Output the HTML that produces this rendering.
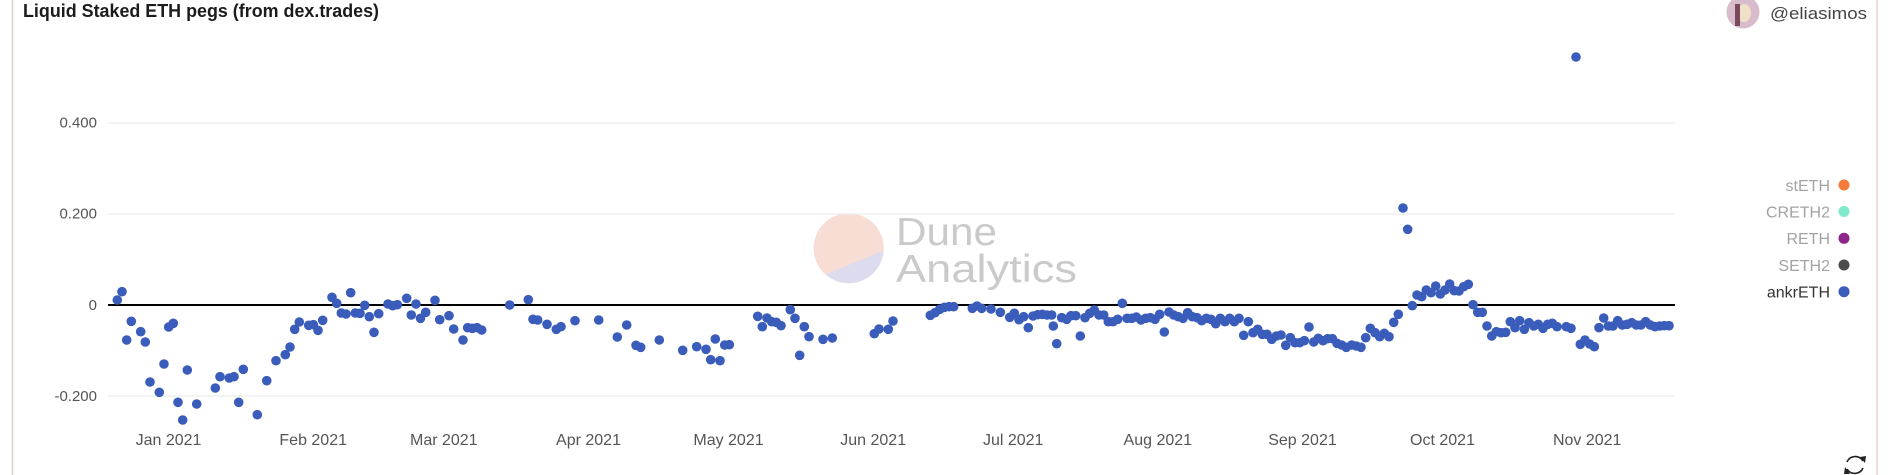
<!DOCTYPE html>
<html><head><meta charset="utf-8"><style>
html,body{margin:0;padding:0;background:#fff;}
svg{display:block;font-family:"Liberation Sans",sans-serif;}
</style></head><body>
<svg width="1891" height="475" viewBox="0 0 1891 475" xmlns="http://www.w3.org/2000/svg">
<rect width="1891" height="475" fill="#fff"/>
<line x1="12.5" y1="0" x2="12.5" y2="475" stroke="#ddd0c9" stroke-width="1.5"/>
<line x1="1877" y1="0" x2="1877" y2="475" stroke="#ecd2cc" stroke-width="1.5"/>
<text x="23" y="17" font-size="18" font-weight="bold" fill="#1c1c1c" textLength="356" lengthAdjust="spacingAndGlyphs">Liquid Staked ETH pegs (from dex.trades)</text>
<circle cx="1743" cy="12" r="16.5" fill="#d8bccb"/>
<ellipse cx="1744" cy="13" rx="7" ry="9" fill="#efe0c8"/>
<rect x="1735" y="4" width="5" height="22" fill="#7a4a5a"/>
<text x="1770" y="19" font-size="17" fill="#444" textLength="97" lengthAdjust="spacingAndGlyphs">@eliasimos</text>
<clipPath id="wc"><circle cx="848.7" cy="248.3" r="35"/></clipPath>
<g clip-path="url(#wc)">
<rect x="810" y="210" width="80" height="80" fill="#dcdcee"/>
<polygon points="800,200 900,200 900,244 800,285" fill="#f8ddd5"/>
</g>
<text x="896" y="245" font-size="39" fill="#cacaca" textLength="101" lengthAdjust="spacingAndGlyphs">Dune</text>
<text x="896" y="282" font-size="39" fill="#cacaca" textLength="181" lengthAdjust="spacingAndGlyphs">Analytics</text>
<g stroke="#efefef" stroke-width="1.5">
<line x1="108" y1="123" x2="1675" y2="123"/>
<line x1="108" y1="214" x2="1675" y2="214"/>
<line x1="108" y1="396" x2="1675" y2="396"/>
</g>
<line x1="108" y1="305" x2="1675" y2="305" stroke="#000" stroke-width="2"/>
<g font-size="15" fill="#555" text-anchor="end">
<text x="97" y="127.5">0.400</text>
<text x="97" y="218.5">0.200</text>
<text x="97" y="310">0</text>
<text x="97" y="401">-0.200</text>
</g>
<g font-size="16" fill="#555" text-anchor="middle">
<text x="168.5" y="445">Jan 2021</text>
<text x="313.2" y="445">Feb 2021</text>
<text x="443.8" y="445">Mar 2021</text>
<text x="588.5" y="445">Apr 2021</text>
<text x="728.5" y="445">May 2021</text>
<text x="873.2" y="445">Jun 2021</text>
<text x="1013.2" y="445">Jul 2021</text>
<text x="1157.8" y="445">Aug 2021</text>
<text x="1302.5" y="445">Sep 2021</text>
<text x="1442.5" y="445">Oct 2021</text>
<text x="1587.2" y="445">Nov 2021</text>
</g>
<g font-size="16" text-anchor="end">
<text x="1830" y="191" fill="#a3a3a3">stETH</text>
<text x="1830" y="217.5" fill="#a3a3a3">CRETH2</text>
<text x="1830" y="244" fill="#a3a3a3">RETH</text>
<text x="1830" y="271" fill="#a3a3a3">SETH2</text>
<text x="1830" y="297.5" fill="#333">ankrETH</text>
</g>
<circle cx="1844" cy="185" r="5.5" fill="#f47b3c"/>
<circle cx="1844" cy="211.5" r="5.5" fill="#7ee9cb"/>
<circle cx="1844" cy="238.3" r="5.5" fill="#8e2589"/>
<circle cx="1844" cy="265" r="5.5" fill="#4b4b4b"/>
<circle cx="1844" cy="291.7" r="5.5" fill="#3a5dbd"/>
<g fill="none" stroke="#222" stroke-width="1.6">
<path d="M1847 462 A9 9 0 0 1 1863 461"/>
<path d="M1863 468 A9 9 0 0 1 1847 469"/>
</g>
<polygon points="1860,457 1865,463 1866,456" fill="#222"/>
<polygon points="1850,474 1845,467 1844,474" fill="#222"/>
<g fill="#3a5cba">
<circle cx="117.3" cy="300" r="4.8"/><circle cx="122" cy="291.7" r="4.8"/><circle cx="126.7" cy="340" r="4.8"/><circle cx="131.3" cy="321.3" r="4.8"/><circle cx="140.7" cy="331.7" r="4.8"/><circle cx="145.3" cy="342" r="4.8"/><circle cx="150" cy="382" r="4.8"/><circle cx="159.3" cy="392.3" r="4.8"/><circle cx="164" cy="364" r="4.8"/><circle cx="168.7" cy="327" r="4.8"/><circle cx="173.3" cy="323.3" r="4.8"/><circle cx="178" cy="402.3" r="4.8"/><circle cx="182.7" cy="420" r="4.8"/><circle cx="187.3" cy="370" r="4.8"/><circle cx="196.7" cy="404" r="4.8"/><circle cx="215.3" cy="388" r="4.8"/><circle cx="220" cy="376.7" r="4.8"/><circle cx="229.3" cy="378" r="4.8"/><circle cx="234" cy="376.7" r="4.8"/><circle cx="238.7" cy="402.3" r="4.8"/><circle cx="243.3" cy="369.3" r="4.8"/><circle cx="257.3" cy="414.7" r="4.8"/><circle cx="266.7" cy="380.7" r="4.8"/><circle cx="276" cy="360.7" r="4.8"/><circle cx="285.3" cy="354.7" r="4.8"/><circle cx="290" cy="347" r="4.8"/><circle cx="294.7" cy="329.3" r="4.8"/><circle cx="299.3" cy="322" r="4.8"/><circle cx="308.7" cy="325.3" r="4.8"/><circle cx="313.3" cy="324.7" r="4.8"/><circle cx="318" cy="330.3" r="4.8"/><circle cx="322.7" cy="320.3" r="4.8"/><circle cx="332" cy="297.3" r="4.8"/><circle cx="336.7" cy="303.3" r="4.8"/><circle cx="341.3" cy="313" r="4.8"/><circle cx="346" cy="314" r="4.8"/><circle cx="350.7" cy="292.7" r="4.8"/><circle cx="355.3" cy="313" r="4.8"/><circle cx="360" cy="313.3" r="4.8"/><circle cx="364.7" cy="305.3" r="4.8"/><circle cx="369.3" cy="316.7" r="4.8"/><circle cx="374" cy="332.3" r="4.8"/><circle cx="378.7" cy="313.7" r="4.8"/><circle cx="388" cy="304" r="4.8"/><circle cx="392.7" cy="305.7" r="4.8"/><circle cx="397.3" cy="304.7" r="4.8"/><circle cx="406.7" cy="298.3" r="4.8"/><circle cx="411.3" cy="315" r="4.8"/><circle cx="416" cy="304" r="4.8"/><circle cx="420.5" cy="318.3" r="4.8"/>
<circle cx="425.7" cy="312.3" r="4.8"/><circle cx="435" cy="300.3" r="4.8"/><circle cx="439.7" cy="319.7" r="4.8"/><circle cx="449" cy="315.7" r="4.8"/><circle cx="453.7" cy="329" r="4.8"/><circle cx="463" cy="340" r="4.8"/><circle cx="467.7" cy="327.7" r="4.8"/><circle cx="472.3" cy="328.3" r="4.8"/><circle cx="477" cy="327.7" r="4.8"/><circle cx="481.7" cy="330" r="4.8"/><circle cx="509.7" cy="305" r="4.8"/><circle cx="528.3" cy="299.7" r="4.8"/><circle cx="533" cy="319.3" r="4.8"/><circle cx="537.7" cy="320" r="4.8"/><circle cx="547" cy="324.3" r="4.8"/><circle cx="556.3" cy="329.3" r="4.8"/><circle cx="561" cy="326.7" r="4.8"/><circle cx="575" cy="320.7" r="4.8"/><circle cx="598.7" cy="320" r="4.8"/><circle cx="617.3" cy="337" r="4.8"/><circle cx="626.7" cy="325" r="4.8"/><circle cx="636" cy="345.3" r="4.8"/><circle cx="640.7" cy="347.3" r="4.8"/><circle cx="659.3" cy="340" r="4.8"/><circle cx="682.7" cy="350.3" r="4.8"/><circle cx="696.7" cy="346.7" r="4.8"/><circle cx="706" cy="349.3" r="4.8"/><circle cx="710.7" cy="359.7" r="4.8"/><circle cx="715.3" cy="339" r="4.8"/><circle cx="720" cy="360.7" r="4.8"/><circle cx="724.7" cy="345" r="4.8"/><circle cx="729.3" cy="344.7" r="4.8"/>
<circle cx="757.7" cy="316.3" r="4.8"/><circle cx="762.3" cy="326.7" r="4.8"/><circle cx="767" cy="318" r="4.8"/><circle cx="771.7" cy="321.7" r="4.8"/><circle cx="776.3" cy="322.3" r="4.8"/><circle cx="781" cy="325.7" r="4.8"/><circle cx="790.3" cy="309.7" r="4.8"/><circle cx="795" cy="318.3" r="4.8"/><circle cx="799.7" cy="355.3" r="4.8"/><circle cx="804.3" cy="326.7" r="4.8"/><circle cx="809" cy="336.7" r="4.8"/><circle cx="823" cy="339.3" r="4.8"/><circle cx="832.3" cy="338" r="4.8"/><circle cx="874.3" cy="333.7" r="4.8"/><circle cx="879" cy="329" r="4.8"/><circle cx="888.3" cy="329.3" r="4.8"/><circle cx="893" cy="321" r="4.8"/><circle cx="930.3" cy="315.3" r="4.8"/><circle cx="935" cy="312.7" r="4.8"/><circle cx="939.7" cy="309.3" r="4.8"/><circle cx="944.3" cy="307.3" r="4.8"/><circle cx="949" cy="306.7" r="4.8"/><circle cx="953.7" cy="306.7" r="4.8"/><circle cx="972.3" cy="308.3" r="4.8"/><circle cx="977" cy="306" r="4.8"/><circle cx="981.7" cy="308.3" r="4.8"/><circle cx="991" cy="309" r="4.8"/><circle cx="1000.3" cy="312.3" r="4.8"/><circle cx="1009.7" cy="317.3" r="4.8"/><circle cx="1014.3" cy="313.3" r="4.8"/><circle cx="1019" cy="319.7" r="4.8"/><circle cx="1023.7" cy="316.7" r="4.8"/><circle cx="1028.3" cy="327.7" r="4.8"/><circle cx="1033" cy="316" r="4.8"/><circle cx="1037.7" cy="314.7" r="4.8"/><circle cx="1042.3" cy="314.3" r="4.8"/><circle cx="1047" cy="315" r="4.8"/>
<circle cx="1051.7" cy="315" r="4.8"/><circle cx="1053.3" cy="326" r="4.8"/><circle cx="1056.7" cy="343.7" r="4.8"/><circle cx="1061.7" cy="317.7" r="4.8"/><circle cx="1066.7" cy="319.3" r="4.8"/><circle cx="1071" cy="315.7" r="4.8"/><circle cx="1075.7" cy="315.7" r="4.8"/><circle cx="1080.3" cy="336" r="4.8"/><circle cx="1085" cy="317.7" r="4.8"/><circle cx="1089.7" cy="313.3" r="4.8"/><circle cx="1094.3" cy="310" r="4.8"/><circle cx="1099" cy="315" r="4.8"/><circle cx="1103.7" cy="315" r="4.8"/><circle cx="1108.3" cy="321.7" r="4.8"/><circle cx="1113" cy="321.7" r="4.8"/><circle cx="1117.7" cy="319.3" r="4.8"/><circle cx="1122.3" cy="303.3" r="4.8"/><circle cx="1127" cy="318.3" r="4.8"/><circle cx="1131.7" cy="318.3" r="4.8"/><circle cx="1136.3" cy="317" r="4.8"/><circle cx="1141" cy="320" r="4.8"/><circle cx="1145.7" cy="318.3" r="4.8"/><circle cx="1150.3" cy="317.7" r="4.8"/><circle cx="1155" cy="319.3" r="4.8"/><circle cx="1159.7" cy="314.3" r="4.8"/><circle cx="1164.3" cy="332" r="4.8"/><circle cx="1169" cy="312" r="4.8"/><circle cx="1173.7" cy="315" r="4.8"/><circle cx="1178.3" cy="316.7" r="4.8"/><circle cx="1183" cy="318.3" r="4.8"/><circle cx="1187.7" cy="312.7" r="4.8"/><circle cx="1192.3" cy="316.7" r="4.8"/><circle cx="1197" cy="317.7" r="4.8"/><circle cx="1201.7" cy="320.7" r="4.8"/><circle cx="1206.3" cy="318.3" r="4.8"/><circle cx="1211" cy="319.3" r="4.8"/><circle cx="1215.7" cy="323.7" r="4.8"/><circle cx="1220.3" cy="318.3" r="4.8"/><circle cx="1225" cy="321.7" r="4.8"/><circle cx="1229.7" cy="318.3" r="4.8"/><circle cx="1234.3" cy="321.7" r="4.8"/><circle cx="1239" cy="318.3" r="4.8"/><circle cx="1243.7" cy="335.3" r="4.8"/><circle cx="1248.3" cy="321.7" r="4.8"/><circle cx="1253" cy="332.7" r="4.8"/><circle cx="1257.7" cy="329.3" r="4.8"/><circle cx="1262.3" cy="334.3" r="4.8"/><circle cx="1267" cy="334.3" r="4.8"/><circle cx="1271.7" cy="339.3" r="4.8"/><circle cx="1276.3" cy="336" r="4.8"/><circle cx="1281" cy="335" r="4.8"/><circle cx="1285.7" cy="345.3" r="4.8"/><circle cx="1290.3" cy="337.7" r="4.8"/><circle cx="1295" cy="342.7" r="4.8"/><circle cx="1299.7" cy="342.7" r="4.8"/><circle cx="1304.3" cy="340.7" r="4.8"/><circle cx="1309" cy="327" r="4.8"/><circle cx="1313.7" cy="342" r="4.8"/><circle cx="1318.3" cy="338.3" r="4.8"/><circle cx="1323" cy="340.7" r="4.8"/><circle cx="1327.7" cy="338.7" r="4.8"/><circle cx="1332.3" cy="338.7" r="4.8"/><circle cx="1337" cy="343.3" r="4.8"/><circle cx="1341.7" cy="345" r="4.8"/><circle cx="1346.3" cy="347.3" r="4.8"/>
<circle cx="1351.7" cy="345" r="4.8"/><circle cx="1356.3" cy="346" r="4.8"/><circle cx="1361" cy="347.3" r="4.8"/><circle cx="1365.7" cy="337.7" r="4.8"/><circle cx="1370.3" cy="328.3" r="4.8"/><circle cx="1375" cy="332.7" r="4.8"/><circle cx="1379.7" cy="336.7" r="4.8"/><circle cx="1384.3" cy="333.3" r="4.8"/><circle cx="1389" cy="336.7" r="4.8"/><circle cx="1393.7" cy="322.3" r="4.8"/><circle cx="1398.3" cy="314.3" r="4.8"/><circle cx="1403" cy="208" r="4.8"/><circle cx="1407.7" cy="229.3" r="4.8"/><circle cx="1412.3" cy="305.7" r="4.8"/><circle cx="1417" cy="295" r="4.8"/><circle cx="1421.7" cy="296.7" r="4.8"/><circle cx="1426.3" cy="290" r="4.8"/><circle cx="1431" cy="292.7" r="4.8"/><circle cx="1435.7" cy="286" r="4.8"/><circle cx="1440.3" cy="294" r="4.8"/><circle cx="1445" cy="290" r="4.8"/><circle cx="1449.7" cy="284" r="4.8"/><circle cx="1454.3" cy="290.7" r="4.8"/><circle cx="1459" cy="291" r="4.8"/><circle cx="1463.7" cy="286.7" r="4.8"/><circle cx="1468.3" cy="284.3" r="4.8"/><circle cx="1473" cy="304.7" r="4.8"/><circle cx="1477.7" cy="312.3" r="4.8"/><circle cx="1482.3" cy="312.3" r="4.8"/><circle cx="1487" cy="326" r="4.8"/><circle cx="1491.7" cy="336" r="4.8"/><circle cx="1496.3" cy="331.7" r="4.8"/><circle cx="1501" cy="332.7" r="4.8"/><circle cx="1505.7" cy="332.3" r="4.8"/><circle cx="1510.3" cy="321.7" r="4.8"/><circle cx="1515" cy="327.7" r="4.8"/><circle cx="1519.7" cy="320.7" r="4.8"/><circle cx="1524.3" cy="329.3" r="4.8"/><circle cx="1529" cy="322.7" r="4.8"/><circle cx="1533.7" cy="326" r="4.8"/><circle cx="1538.3" cy="324.3" r="4.8"/><circle cx="1543" cy="328.3" r="4.8"/><circle cx="1547.7" cy="324.3" r="4.8"/><circle cx="1552.3" cy="323.3" r="4.8"/><circle cx="1557" cy="326.7" r="4.8"/><circle cx="1566.3" cy="326.7" r="4.8"/><circle cx="1571" cy="328.3" r="4.8"/><circle cx="1576" cy="57" r="4.8"/><circle cx="1580.3" cy="344.3" r="4.8"/><circle cx="1585" cy="340" r="4.8"/><circle cx="1589.7" cy="344" r="4.8"/><circle cx="1594.3" cy="346.7" r="4.8"/><circle cx="1599" cy="327.7" r="4.8"/><circle cx="1603.7" cy="318" r="4.8"/><circle cx="1608.3" cy="326" r="4.8"/><circle cx="1613" cy="326" r="4.8"/><circle cx="1617.7" cy="320.7" r="4.8"/><circle cx="1622.3" cy="325" r="4.8"/><circle cx="1627" cy="324.3" r="4.8"/><circle cx="1631.7" cy="322.7" r="4.8"/><circle cx="1636.3" cy="325" r="4.8"/><circle cx="1641" cy="325" r="4.8"/><circle cx="1645.7" cy="321.7" r="4.8"/><circle cx="1650.3" cy="325" r="4.8"/><circle cx="1655" cy="326.7" r="4.8"/><circle cx="1659.7" cy="326" r="4.8"/><circle cx="1664.3" cy="325.7" r="4.8"/><circle cx="1669" cy="325.7" r="4.8"/>
</g>
</svg>
</body></html>
